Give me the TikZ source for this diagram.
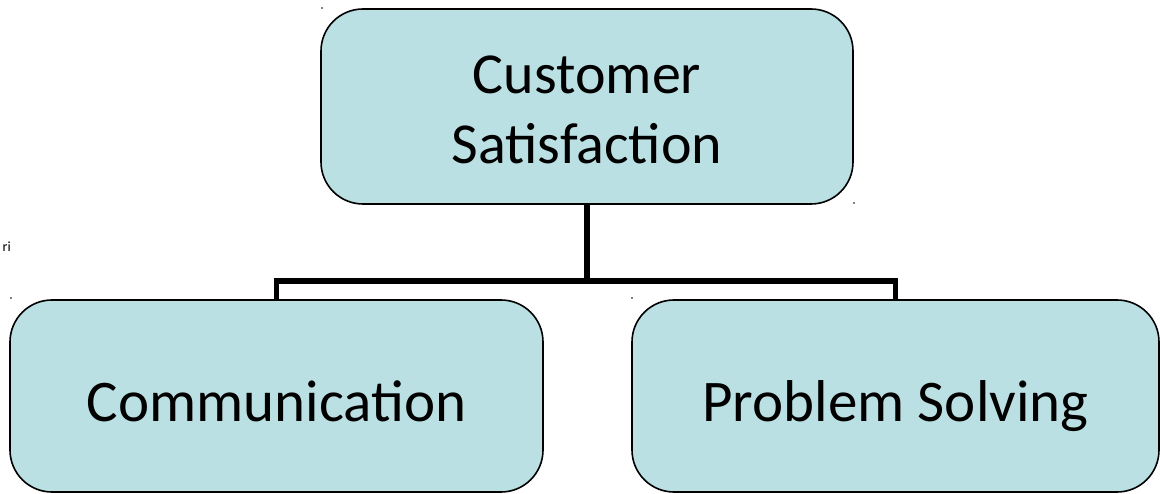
\documentclass[tikz,border=0pt]{standalone}
\usepackage{fontspec}
\setmainfont{Carlito}
\definecolor{boxfill}{RGB}{187,224,227}
\newcommand{\lowerby}[2]{\raisebox{-#1}[\height][\depth]{#2}}
\begin{document}
\begin{tikzpicture}[x=1pt,y=-1pt,
  box/.style={draw=black,line width=1.6pt,fill=boxfill,rounded corners=42pt,
    inner sep=0pt,outer sep=0pt,align=center,
    font=\fontsize{59}{70}\selectfont},
  oneline/.style={text height=50pt,text depth=0pt},
  link/.style={line width=5.5pt},
  speck/.style={fill=black,circle,inner sep=0pt,minimum size=1.6pt}]
\useasboundingbox (0,0) rectangle (1160,494);
\node[box,font=\fontsize{58}{70}\selectfont,minimum width=532pt,minimum height=195pt] (top) at (587,106.5) {\lowerby{3.5pt}{Customer}\\\lowerby{3.5pt}{Satisfaction}};
\node[box,oneline,minimum width=533pt,minimum height=192pt] (left) at (276.5,396) {Communication};
\node[box,oneline,minimum width=527pt,minimum height=192pt] (right) at (895.5,396) {Problem Solving};
\coordinate (junc) at (587,281);
\draw[link] (top.south) -- (junc);
\draw[link] (junc) -| (left.north);
\draw[link] (junc) -| (right.north);
\node[font=\fontsize{14}{16}\selectfont,inner sep=0pt,anchor=base west] (ri) at (2.5,252) {ri};
\node[speck] (d1) at (322,8) {};
\node[speck] (d2) at (854,203) {};
\node[speck] (d3) at (11,298) {};
\node[speck] (d4) at (632,298) {};
\end{tikzpicture}
\end{document}
